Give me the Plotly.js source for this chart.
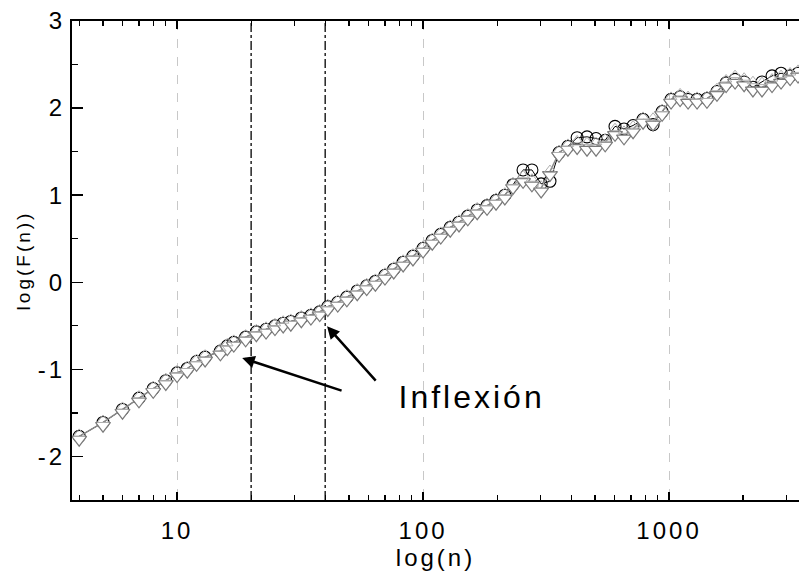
<!DOCTYPE html>
<html><head><meta charset="utf-8">
<script src="https://cdn.plot.ly/plotly-3.0.1.min.js"></script>
<style>
html,body{margin:0;padding:0;background:#fff;}
#chart{width:799px;height:577px;}
.main-svg text{letter-spacing:3px;}
</style></head><body><div id="chart"></div>
<script>
// window size n
const n = [4,5,6,7,8,9,10,11,12,13,15,16,17,19,21,23,25,27,29,32,35,38,41,45,49,54,59,64,70,76,83,91,100,109,118,129,140,152,166,182,198,215,232,255,277,302,328,357,388,423,464,505,550,603,656,714,784,861,937,1019,1109,1195,1300,1426,1566,1706,1855,2019,2193,2387,2622,2853,3105,3345];
// log F(n), series drawn with open circles
const yCircles = [-1.77,-1.61,-1.46,-1.33,-1.22,-1.13,-1.04,-0.99,-0.91,-0.86,-0.79,-0.73,-0.69,-0.63,-0.57,-0.54,-0.50,-0.47,-0.45,-0.41,-0.38,-0.34,-0.28,-0.23,-0.17,-0.10,-0.04,0.01,0.08,0.15,0.23,0.30,0.39,0.48,0.55,0.63,0.69,0.76,0.83,0.88,0.94,1.00,1.12,1.29,1.29,1.13,1.16,1.49,1.56,1.66,1.67,1.65,1.63,1.79,1.76,1.80,1.87,1.81,1.96,2.10,2.13,2.10,2.10,2.11,2.19,2.29,2.33,2.30,2.24,2.30,2.37,2.40,2.37,2.40];
// series drawn with down triangles
const yDown = [-1.77,-1.61,-1.46,-1.33,-1.22,-1.13,-1.04,-0.99,-0.91,-0.86,-0.79,-0.73,-0.69,-0.63,-0.57,-0.54,-0.50,-0.47,-0.45,-0.41,-0.38,-0.34,-0.28,-0.23,-0.17,-0.10,-0.04,0.01,0.08,0.15,0.23,0.30,0.39,0.48,0.55,0.63,0.69,0.76,0.83,0.88,0.94,1.00,1.12,1.19,1.15,1.08,1.27,1.49,1.56,1.58,1.56,1.56,1.61,1.73,1.69,1.76,1.87,1.85,1.96,2.10,2.13,2.10,2.10,2.11,2.19,2.29,2.33,2.30,2.24,2.24,2.29,2.33,2.37,2.40];
// series drawn with up triangles
const yUp = [-1.77,-1.61,-1.46,-1.33,-1.22,-1.13,-1.04,-0.99,-0.91,-0.86,-0.79,-0.73,-0.69,-0.63,-0.57,-0.54,-0.50,-0.47,-0.45,-0.41,-0.38,-0.34,-0.28,-0.23,-0.17,-0.10,-0.04,0.01,0.08,0.15,0.23,0.30,0.39,0.48,0.55,0.63,0.69,0.76,0.83,0.88,0.94,1.00,1.12,1.20,1.16,1.08,1.26,1.49,1.56,1.60,1.58,1.58,1.62,1.74,1.71,1.77,1.87,1.86,1.96,2.10,2.14,2.11,2.10,2.11,2.20,2.30,2.35,2.32,2.28,2.27,2.31,2.35,2.38,2.41];

const yTickVals = [-2,-1,0,1,2,3];
const yTickText = ["-2","-1","0","1","2","3"];
const xTickVals = [10,100,1000];
const xTickText = ["10","100","1000"];
const yRange = [-2.5,3];

// inflection markers (vertical lines) and annotation
const inflectionN = [20,40];
const arrowHeadN = [18.4,40.7];
const arrowHeadY = [-0.87,-0.505];
const arrowTailN = [47.3,65.0];
const arrowTailY = [-1.25,-1.147];
const labelText = "Inflexión";
const labelN = 158;
const labelY = -1.32;

const FONT = "Liberation Sans, Arial, sans-serif";

const traces = [];
inflectionN.forEach(v => traces.push({
  x:[v,v], y:yRange, mode:'lines', type:'scatter', hoverinfo:'skip',
  line:{color:'#000', width:1.3, dash:'dashdot'}
}));
traces.push(
  {x:n, y:yCircles, mode:'lines+markers', type:'scatter',
   line:{color:'#000', width:1},
   marker:{symbol:'circle-open', size:12, color:'#000', line:{width:1.1, color:'#000'}}},
  {x:n, y:yDown, mode:'lines+markers', type:'scatter',
   line:{color:'#8a8a8a', width:1.5},
   marker:{symbol:'triangle-down', size:13, color:'#fff', angle:0, standoff:3.25,
           line:{width:1.2, color:'#7a7a7a'}}},
  {x:n, y:yUp, mode:'markers', type:'scatter',
   marker:{symbol:'triangle-down-open', size:10, color:'#b0b0b0', angle:180, standoff:2.5,
           line:{width:1, color:'#b0b0b0'}}}
);

const annotations = arrowHeadN.map((v,i) => ({
  x:Math.log10(v), y:arrowHeadY[i], xref:'x', yref:'y',
  ax:Math.log10(arrowTailN[i]), ay:arrowTailY[i], axref:'x', ayref:'y',
  text:'', showarrow:true, arrowhead:2, arrowsize:1, arrowwidth:2.5, arrowcolor:'#000'
}));
annotations.push({x:Math.log10(labelN), y:labelY, xref:'x', yref:'y', text:labelText,
  showarrow:false, font:{family:FONT, size:32, color:'#000'}});

const layout = {
  width:799, height:577,
  margin:{l:72, r:0, t:21, b:77},
  paper_bgcolor:'#fff', plot_bgcolor:'#fff',
  showlegend:false,
  font:{family:FONT, size:24, color:'#000'},
  xaxis:{type:'log', range:[Math.log10(3.74), Math.log10(3375)],
    tickvals:xTickVals, ticktext:xTickText,
    ticks:'inside', ticklen:8, tickwidth:1.5, tickcolor:'#000',
    minor:{ticks:'inside', ticklen:5, tickwidth:1.2, tickcolor:'#000', dtick:'D1', showgrid:false},
    showline:true, linewidth:2, linecolor:'#000', mirror:'ticks',
    showgrid:true, gridcolor:'#c8c8c8', gridwidth:1, griddash:'dash',
    zeroline:false, tickfont:{family:FONT, size:24}, ticklabelstandoff:8,
    title:{text:'log(n)', font:{family:FONT, size:24}, standoff:4}},
  yaxis:{range:yRange, tickvals:yTickVals, ticktext:yTickText,
    ticks:'inside', ticklen:11, tickwidth:1.5, tickcolor:'#000',
    minor:{ticks:'inside', ticklen:6, tickwidth:1.2, tickcolor:'#000', dtick:0.5, tick0:0, showgrid:false},
    showline:true, linewidth:2, linecolor:'#000', mirror:false,
    showgrid:false, zeroline:false, tickfont:{family:FONT, size:24},
    title:{text:'log(F(n))', font:{family:FONT, size:19}, standoff:8}},
  annotations:annotations
};

Plotly.newPlot('chart', traces, layout, {displayModeBar:false, staticPlot:true});
</script></body></html>
